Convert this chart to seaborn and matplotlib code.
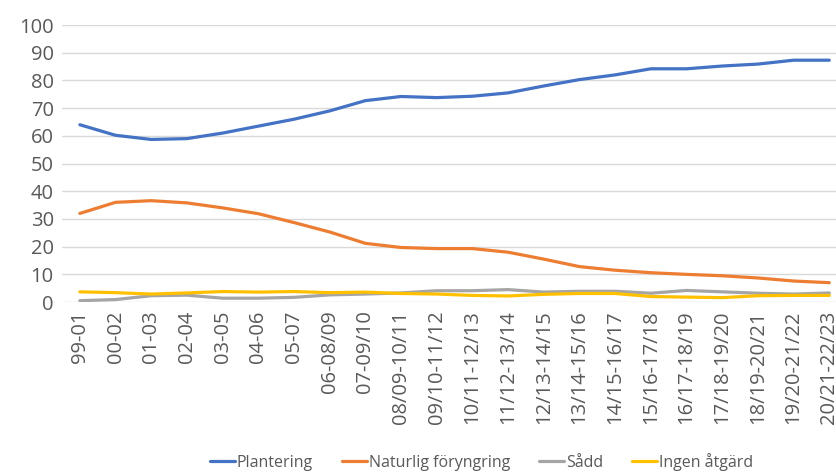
import pandas as pd
import seaborn as sns
import matplotlib.pyplot as plt

# Andel (%) per föryngringsmetod
perioder = ["99-01", "00-02", "01-03", "02-04", "03-05", "04-06", "05-07",
            "06-08/09", "07-09/10", "08/09-10/11", "09/10-11/12", "10/11-12/13",
            "11/12-13/14", "12/13-14/15", "13/14-15/16", "14/15-16/17",
            "15/16-17/18", "16/17-18/19", "17/18-19/20", "18/19-20/21",
            "19/20-21/22", "20/21-22/23"]
plantering = [64, 60.2, 58.7, 59, 61, 63.5, 66, 69, 72.7, 74.2, 73.8, 74.3,
              75.5, 78, 80.3, 82, 84.2, 84.2, 85.2, 85.9, 87.3, 87.3]
naturlig = [32, 36, 36.6, 35.8, 34, 31.9, 28.7, 25.3, 21.2, 19.7, 19.3, 19.3,
            18, 15.5, 12.8, 11.5, 10.6, 10, 9.5, 8.7, 7.6, 7.0]
sadd = [0.5, 0.9, 2.3, 2.5, 1.4, 1.4, 1.7, 2.6, 2.9, 3.3, 4.1, 4.1, 4.5, 3.6,
        3.9, 3.9, 3.2, 4.2, 3.7, 3.2, 2.9, 3.3]
ingen = [3.7, 3.4, 2.9, 3.3, 3.8, 3.6, 3.8, 3.4, 3.6, 3.1, 2.9, 2.4, 2.2, 2.8,
         3.1, 3.1, 2.0, 1.8, 1.6, 2.3, 2.4, 2.4]

serier = ["Plantering", "Naturlig föryngring", "Sådd", "Ingen åtgärd"]
farger = ["#4472C4", "#ED7D31", "#A5A5A5", "#FFC000"]

df = pd.DataFrame({"period": perioder, serier[0]: plantering, serier[1]: naturlig,
                   serier[2]: sadd, serier[3]: ingen})
long = df.melt(id_vars="period", var_name="metod", value_name="andel")
long["x"] = long["period"].map({p: i for i, p in enumerate(perioder)})

sns.set_style("white")
plt.rcParams["font.family"] = ["Open Sans", "DejaVu Sans"]

fig = plt.figure(figsize=(8.37, 4.72), dpi=100)
ax = fig.add_axes([0.0741, 0.360, 0.938, 0.587])

sns.lineplot(data=long, x="x", y="andel", hue="metod", hue_order=serier,
             palette=farger, linewidth=2.3, ax=ax, legend=True)

ax.set_xlim(-0.5, len(perioder) - 0.5)
ax.set_ylim(0, 100)
ax.set_yticks(range(0, 101, 10))
ax.set_xticks(range(len(perioder)))
ax.set_xticklabels(perioder, rotation=90)
ax.tick_params(axis="both", colors="#595959", labelsize=14.5, length=0, pad=6)
ax.yaxis.grid(True, color="#D9D9D9", linewidth=1)
ax.set_axisbelow(True)
for s in ax.spines.values():
    s.set_visible(False)
ax.set_xlabel("")
ax.set_ylabel("")

h, l = ax.get_legend_handles_labels()
ax.legend_.remove()
fig.legend(h, l, loc="center", bbox_to_anchor=(0.575, 0.021), ncol=4,
           frameon=False, fontsize=11.5, handlelength=1.6, handletextpad=0.1,
           columnspacing=1.8, labelcolor="#595959")

fig.savefig("out.png", dpi=100)
